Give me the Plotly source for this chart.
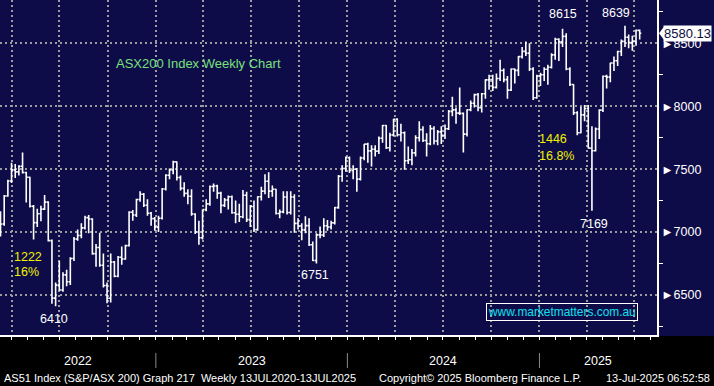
import pandas as pd
import plotly.graph_objects as go

# ---------------- data (weekly OHLC, S&P/ASX 200) ----------------
dates = pd.date_range("2022-03-11", periods=175, freq="W-FRI")

opens = [7050, 7064, 7286, 7406, 7494, 7478, 7523, 7473, 7435, 7205, 7075, 7145, 7182, 7238, 6932, 6475,
         6578, 6539, 6660, 6605, 6790, 6945, 6973, 7033, 7115, 7104, 6829, 6877, 6736, 6575, 6474, 6762,
         6649, 6800, 6786, 6892, 7158, 7135, 7259, 7301, 7213, 7149, 7107,
         7039, 7110, 7342, 7452, 7493, 7558, 7433, 7347, 7307, 7284, 7144, 7000, 6955, 7178, 7224, 7362,
         7366, 7309, 7212, 7255, 7280, 7154, 7142, 7122, 7292, 7099, 7203, 7019, 7280, 7325, 7404, 7325,
         7340, 7148, 7160, 7279, 7156, 7279, 7069, 7048, 7017, 7051, 6899, 6774, 6978, 6977, 7050, 7040,
         7073, 7194, 7443, 7505,
         7591, 7489, 7499, 7421, 7588, 7699, 7645, 7658, 7643, 7745, 7847, 7670, 7771, 7897, 7773, 7789,
         7567, 7575, 7629, 7749, 7814, 7727, 7702, 7822, 7724, 7796, 7768, 7821, 7959, 7971, 7945, 7943,
         7778, 7972, 8023, 8092, 7989, 8099, 8209, 8212, 8150, 8220, 8284, 8211, 8128, 8296, 8285, 8394,
         8436, 8421, 8296, 8067,
         8240, 8250, 8294, 8310, 8408, 8532, 8511, 8555, 8296, 8172, 7948, 7789, 7931, 7982, 7667, 7646,
         7819, 7969, 8238, 8231, 8343, 8361, 8435, 8515, 8548, 8505, 8514, 8603]
highs = [7165, 7295, 7415, 7550, 7540, 7530, 7632, 7480, 7440, 7215, 7185, 7210, 7295, 7245, 6940, 6600,
         6770, 6680, 6700, 6800, 6960, 7020, 7070, 7130, 7135, 7110, 6905, 6995, 6830, 6600, 6830, 6770,
         6810, 6885, 6900, 7165, 7175, 7265, 7325, 7310, 7260, 7160, 7120,
         7130, 7350, 7460, 7505, 7567, 7560, 7450, 7395, 7340, 7340, 7150, 7090, 7180, 7260, 7370, 7385,
         7375, 7320, 7270, 7290, 7290, 7250, 7225, 7335, 7320, 7215, 7250, 7285, 7360, 7460, 7475, 7370,
         7345, 7180, 7325, 7325, 7325, 7300, 7110, 7070, 7125, 7110, 6925, 6990, 7045, 7110, 7095, 7090,
         7200, 7453, 7530, 7600,
         7600, 7530, 7510, 7600, 7700, 7710, 7690, 7690, 7760, 7850, 7850, 7790, 7900, 7905, 7860, 7800,
         7680, 7660, 7770, 7880, 7840, 7785, 7850, 7840, 7810, 7840, 7855, 7970, 8076, 7990, 8148, 7950,
         7975, 8045, 8100, 8105, 8105, 8215, 8250, 8250, 8260, 8370, 8300, 8240, 8300, 8300, 8400, 8470,
         8515, 8500, 8310, 8250,
         8265, 8310, 8330, 8420, 8545, 8540, 8615, 8580, 8310, 8175, 7960, 7995, 8010, 8010, 7840, 7830,
         7975, 8245, 8250, 8345, 8395, 8440, 8530, 8639, 8570, 8560, 8610, 8610]
lows = [6965, 7050, 7280, 7390, 7430, 7450, 7465, 7235, 7195, 6940, 7040, 7085, 7175, 6925, 6430, 6410,
        6535, 6525, 6570, 6580, 6770, 6930, 6950, 7020, 6990, 6820, 6725, 6725, 6560, 6435, 6440, 6640,
        6640, 6740, 6780, 6885, 7090, 7120, 7240, 7200, 7130, 7050, 7010,
        7000, 7100, 7330, 7420, 7460, 7410, 7330, 7280, 7220, 7130, 6985, 6900, 6940, 7165, 7210, 7320,
        7265, 7150, 7200, 7180, 7145, 7070, 7080, 7110, 7080, 7040, 7000, 7010, 7250, 7300, 7270, 7280,
        7140, 7110, 7150, 7140, 7140, 6995, 7020, 6935, 6990, 6890, 6770, 6751, 6950, 6960, 7010, 7020,
        7060, 7185, 7400, 7480,
        7470, 7420, 7320, 7410, 7570, 7550, 7520, 7600, 7620, 7710, 7660, 7640, 7760, 7760, 7720, 7495,
        7540, 7530, 7600, 7720, 7715, 7600, 7690, 7695, 7690, 7700, 7740, 7810, 7920, 7860, 7930, 7633,
        7760, 7960, 7990, 7960, 7950, 8060, 8130, 8120, 8140, 8200, 8190, 8060, 8120, 8180, 8240, 8380,
        8400, 8280, 8050, 8060,
        8160, 8200, 8170, 8300, 8370, 8360, 8470, 8285, 8160, 7930, 7770, 7785, 7880, 7665, 7169, 7640,
        7740, 7955, 8140, 8190, 8280, 8320, 8400, 8470, 8460, 8440, 8480, 8530]
closes = [7064, 7286, 7406, 7494, 7478, 7523, 7473, 7435, 7205, 7075, 7145, 7182, 7238, 6932, 6475, 6578,
          6539, 6660, 6605, 6790, 6945, 6973, 7033, 7115, 7104, 6829, 6877, 6736, 6575, 6474, 6762, 6649,
          6800, 6786, 6892, 7158, 7135, 7259, 7301, 7213, 7149, 7107, 7039,
          7110, 7342, 7452, 7493, 7558, 7433, 7347, 7307, 7284, 7144, 7000, 6955, 7178, 7224, 7362, 7366,
          7309, 7212, 7255, 7280, 7154, 7142, 7122, 7292, 7099, 7203, 7019, 7280, 7325, 7404, 7325, 7340,
          7148, 7160, 7279, 7156, 7279, 7069, 7048, 7017, 7051, 6899, 6774, 6978, 6977, 7050, 7040, 7073,
          7194, 7443, 7505, 7591,
          7489, 7499, 7421, 7588, 7699, 7645, 7658, 7643, 7745, 7847, 7670, 7771, 7897, 7773, 7789, 7567,
          7575, 7629, 7749, 7814, 7727, 7702, 7822, 7724, 7796, 7768, 7821, 7959, 7971, 7945, 7943, 7778,
          7972, 8023, 8092, 7989, 8099, 8209, 8212, 8150, 8220, 8284, 8211, 8128, 8296, 8285, 8394, 8436,
          8421, 8296, 8067, 8240,
          8250, 8294, 8310, 8408, 8532, 8511, 8555, 8296, 8172, 7948, 7789, 7931, 7982, 7667, 7646, 7819,
          7969, 8238, 8231, 8343, 8361, 8435, 8515, 8548, 8505, 8514, 8603, 8580.13]

years = [2022, 2023, 2024, 2025]
x_range = ["2022-03-10", "2025-08-13"]
y_range = [6182, 8844]

title_text = "ASX200 Index Weekly Chart"
watermark = "www.marketmatters.com.au"
footer_left = "AS51 Index (S&P/ASX 200) Graph 217  Weekly 13JUL2020-13JUL2025"
footer_mid = "Copyright\u00a9 2025 Bloomberg Finance L.P."
footer_right = "13-Jul-2025 06:52:58"

# ---------------- styling ----------------
NAVY = "#0e0c48"
GRID = "#9c9c9c"
YELLOW = "#f0f000"
GREEN = "#78e07c"
CYAN = "#10e0ee"
FONT = "Liberation Sans, Arial, sans-serif"

PLOT_H = 335.0
PLOT_W = 657.0

fig = go.Figure(go.Ohlc(
    x=dates, open=opens, high=highs, low=lows, close=closes,
    increasing=dict(line=dict(color="white", width=1.6)),
    decreasing=dict(line=dict(color="white", width=1.6)),
    tickwidth=0.45, hoverinfo="skip"))

# derived label values
s = pd.DataFrame({"d": dates, "h": highs, "l": lows, "c": closes})
i_low22 = s[s.d.dt.year == 2022].l.idxmin()
i_hi22 = s[s.d < s.d[i_low22]].h.idxmax()
i_low23 = s[(s.d > "2023-06-01") & (s.d < "2024-01-01")].l.idxmin()
i_hi25a = s[s.d < "2025-03-01"].h.idxmax()
i_low25 = s[s.d.dt.year == 2025].l.idxmin()
i_hi25b = s[s.d > s.d[i_low25]].h.idxmax()

drop1 = highs[i_hi22] - lows[i_low22]
drop2 = highs[i_hi25a] - lows[i_low25]

ann = []
def txt(x, y, t, color="white", size=12.5, xref="x", yref="y", xanchor="center", yanchor="middle",
        xshift=0, yshift=0, family=FONT, **kw):
    ann.append(dict(x=x, y=y, text=t, xref=xref, yref=yref, showarrow=False, xanchor=xanchor,
                    yanchor=yanchor, xshift=xshift, yshift=yshift,
                    font=dict(color=color, size=size, family=family), **kw))

txt(dates[i_hi25a], highs[i_hi25a], f"{highs[i_hi25a]:.0f}", yshift=15)
txt(dates[i_hi25b], highs[i_hi25b], f"{highs[i_hi25b]:.0f}", yshift=13, xshift=-9)
txt(dates[i_low25], lows[i_low25], f"{lows[i_low25]:.0f}", yshift=-13, xshift=2)
txt(dates[i_low22], lows[i_low22], f"{lows[i_low22]:.0f}", yshift=-13, xshift=-2)
txt(dates[i_low23], lows[i_low23], f"{lows[i_low23]:.0f}", yshift=-12, xshift=-1)

txt(12 / PLOT_W, 6801, f"{drop1:.0f}", color=YELLOW, xref="paper", xanchor="left")
txt(12 / PLOT_W, 6682, f"{drop1 / highs[i_hi22] * 100:.0f}%", color=YELLOW, xref="paper", xanchor="left")
txt(537 / PLOT_W, 7740, f"{drop2:.0f}", color=YELLOW, xref="paper", xanchor="left")
txt(537 / PLOT_W, 7605, f"{drop2 / highs[i_hi25a] * 100:.1f}%", color=YELLOW, xref="paper", xanchor="left")

txt(198 / PLOT_W, 1 - 64 / PLOT_H, title_text, color=GREEN, size=13, xref="paper", yref="paper")
txt(562 / PLOT_W, 1 - 311.5 / PLOT_H, watermark, color=CYAN, size=11.9, xref="paper", yref="paper",
    bordercolor="white", borderwidth=1, borderpad=1)

# last price tag
txt(1.0, closes[-1], f"{closes[-1]:.2f}", color="#0c0c40", size=13, xref="paper", xanchor="left",
    xshift=6, bgcolor="white", borderpad=0)

# year labels (centred on visible part of each year)
r0, r1 = pd.Timestamp(x_range[0]), pd.Timestamp(x_range[1])
shapes = []
for y in years:
    a = max(r0, pd.Timestamp(f"{y}-01-01"))
    b = min(r1, pd.Timestamp(f"{y + 1}-01-01"))
    txt(a + (b - a) / 2, -26 / PLOT_H, str(y), yref="paper", size=12.5)
    if pd.Timestamp(f"{y}-01-01") > r0:
        shapes.append(dict(type="line", xref="x", yref="paper", x0=f"{y}-01-01", x1=f"{y}-01-01",
                           y0=-18 / PLOT_H, y1=-33 / PLOT_H, line=dict(color="#8a8a8a", width=1)))

txt(2 / PLOT_W, -43 / PLOT_H, footer_left, xref="paper", yref="paper", xanchor="left", size=11)
txt(377 / PLOT_W, -43 / PLOT_H, footer_mid, xref="paper", yref="paper", xanchor="left", size=11)
txt(712 / PLOT_W, -43 / PLOT_H, footer_right, xref="paper", yref="paper", xanchor="right", size=11)

# black band below the chart
shapes.insert(0, dict(type="rect", xref="paper", yref="paper", x0=-0.05, x1=1.2, y0=-0.3, y1=-0.003,
                      fillcolor="black", line=dict(width=0), layer="below"))
# pointer of the price tag
shapes.append(dict(type="path", xref="paper", yref="y", xsizemode="pixel", ysizemode="pixel",
                   xanchor=1.0, yanchor=closes[-1], path="M 2,0 L 7,6.5 L 7,-6.5 Z",
                   fillcolor="white", line=dict(width=0)))

fig.update_layout(
    width=714, height=386, margin=dict(l=0, r=57, t=0, b=51),
    paper_bgcolor=NAVY, plot_bgcolor=NAVY, showlegend=False,
    annotations=ann, shapes=shapes,
    xaxis=dict(type="date", range=x_range, rangeslider=dict(visible=False),
               tickmode="linear", tick0="2022-01-01", dtick="M3", showticklabels=False,
               ticks="outside", ticklen=3, tickcolor="white", tickwidth=1,
               showgrid=True, gridcolor=GRID, gridwidth=1.5, griddash="2px,3px",
               showline=True, linecolor="white", linewidth=1.5, zeroline=False,
               minor=dict(dtick="M1", tick0="2022-01-01", ticks="outside", ticklen=3,
                          tickcolor="white", tickwidth=1, showgrid=False)),
    yaxis=dict(side="right", range=y_range, tickmode="linear", tick0=6500, dtick=500,
               tickprefix="\u25ba", ticks="", showgrid=True, gridcolor=GRID, gridwidth=1.5,
               griddash="2px,3px", showline=True, linecolor="white", linewidth=1.5, zeroline=False,
               tickfont=dict(color="white", size=12.5, family=FONT),
               minor=dict(dtick=250, tick0=6250, ticks="outside", ticklen=4, tickcolor="white",
                          tickwidth=1, showgrid=False)),
)

fig.write_html("out.html", config={"displayModeBar": False},
               post_script="document.body.style.margin='0px';")
